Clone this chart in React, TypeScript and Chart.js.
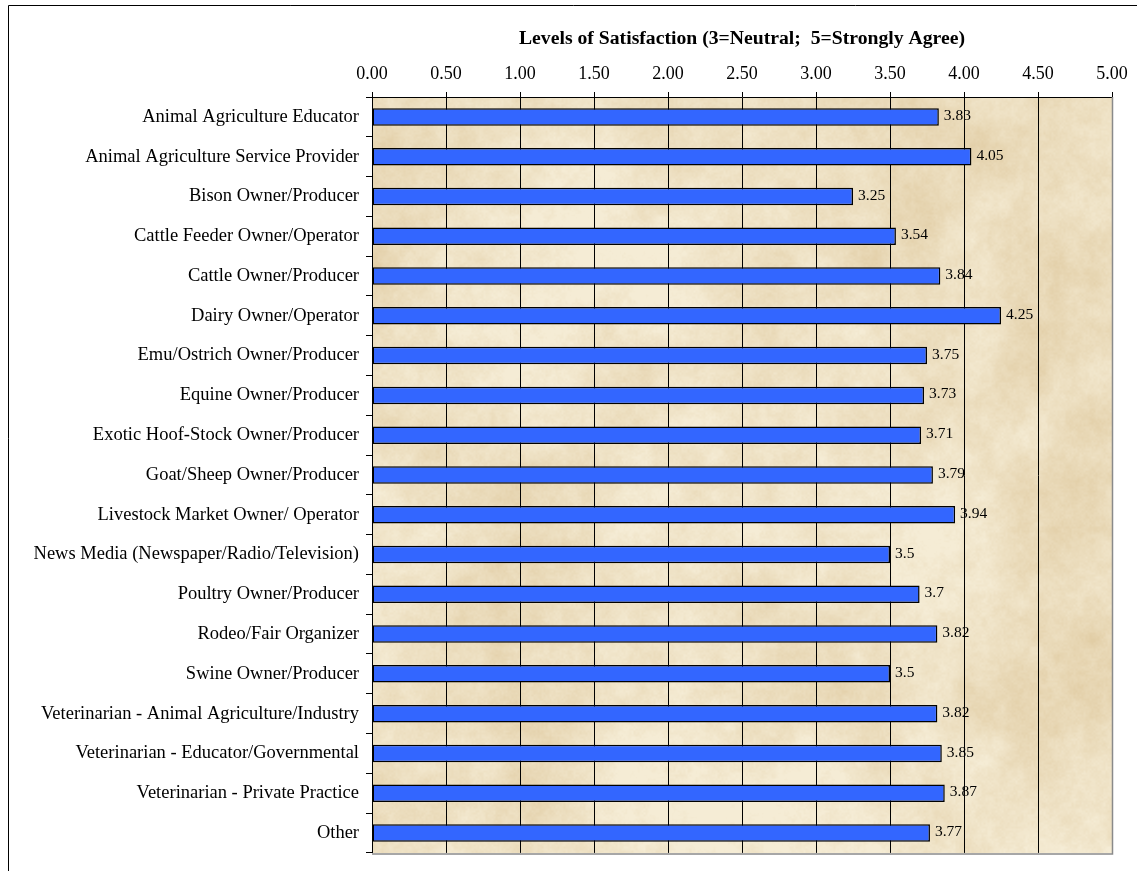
import React, { useEffect, useRef } from "react";
import { Chart, registerables } from "chart.js";

Chart.register(...registerables);

// Respondent groups, listed top to bottom
const categories: string[] = [
  "Animal Agriculture Educator",
  "Animal Agriculture Service Provider",
  "Bison Owner/Producer",
  "Cattle Feeder Owner/Operator",
  "Cattle Owner/Producer",
  "Dairy Owner/Operator",
  "Emu/Ostrich Owner/Producer",
  "Equine Owner/Producer",
  "Exotic Hoof-Stock Owner/Producer",
  "Goat/Sheep Owner/Producer",
  "Livestock Market Owner/ Operator",
  "News Media (Newspaper/Radio/Television)",
  "Poultry Owner/Producer",
  "Rodeo/Fair Organizer",
  "Swine Owner/Producer",
  "Veterinarian - Animal Agriculture/Industry",
  "Veterinarian - Educator/Governmental",
  "Veterinarian - Private Practice",
  "Other",
];

// Mean satisfaction score per group
const satisfaction: number[] = [
  3.83, 4.05, 3.25, 3.54, 3.84, 4.25, 3.75, 3.73, 3.71, 3.79, 3.94, 3.5, 3.7,
  3.82, 3.5, 3.82, 3.85, 3.87, 3.77,
];

const axisTitle = "Levels of Satisfaction (3=Neutral;  5=Strongly Agree)";
const scaleMin = 0;
const scaleMax = 5;
const scaleStep = 0.5;

const SERIF = "'Liberation Serif', 'Times New Roman', serif";

// ---- parchment fill for the plot area (deterministic value noise) ----
function hash(x: number, y: number, seed: number): number {
  let h = (Math.imul(x, 374761393) + Math.imul(y, 668265263) + Math.imul(seed, 982451653)) | 0;
  h = Math.imul(h ^ (h >>> 13), 1274126177);
  h ^= h >>> 16;
  return (h >>> 0) / 4294967295;
}

function smooth(t: number) {
  return t * t * (3 - 2 * t);
}

function valueNoise(x: number, y: number, cell: number, seed: number): number {
  const gx = x / cell;
  const gy = y / cell;
  const x0 = Math.floor(gx);
  const y0 = Math.floor(gy);
  const fx = smooth(gx - x0);
  const fy = smooth(gy - y0);
  const a = hash(x0, y0, seed);
  const b = hash(x0 + 1, y0, seed);
  const c = hash(x0, y0 + 1, seed);
  const d = hash(x0 + 1, y0 + 1, seed);
  return (a + (b - a) * fx) * (1 - fy) + (c + (d - c) * fx) * fy;
}

function makeParchment(w: number, h: number): HTMLCanvasElement {
  const cv = document.createElement("canvas");
  cv.width = w;
  cv.height = h;
  const ctx = cv.getContext("2d")!;
  const img = ctx.createImageData(w, h);
  const light = [245, 236, 213];
  const dark = [224, 203, 162];
  for (let y = 0; y < h; y++) {
    for (let x = 0; x < w; x++) {
      // slightly warmer toward the upper left
      const tint = 0.12 * (1 - x / w) * (1 - y / h);
      let n =
        0.36 * valueNoise(x, y, 140, 1) +
        0.26 * valueNoise(x, y, 55, 2) +
        0.18 * valueNoise(x, y, 18, 3) +
        0.11 * valueNoise(x, y, 6, 4) +
        0.09 * valueNoise(x, y, 2, 5);
      n = Math.min(1, Math.max(0, (n - 0.32) * 1.6 + tint));
      const i = (y * w + x) * 4;
      img.data[i] = light[0] + (dark[0] - light[0]) * n;
      img.data[i + 1] = light[1] + (dark[1] - light[1]) * n;
      img.data[i + 2] = light[2] + (dark[2] - light[2]) * n;
      img.data[i + 3] = 255;
    }
  }
  ctx.putImageData(img, 0, 0);
  return cv;
}

let parchmentCache: HTMLCanvasElement | null = null;

const parchmentPlugin = {
  id: "parchment",
  beforeDraw(chart: any) {
    const { left, top, right, bottom } = chart.chartArea;
    const w = Math.round(right - left);
    const h = Math.round(bottom - top);
    if (!parchmentCache || parchmentCache.width !== w || parchmentCache.height !== h) {
      parchmentCache = makeParchment(w, h);
    }
    chart.ctx.drawImage(parchmentCache, Math.round(left), Math.round(top));
  },
};

const framePlugin = {
  id: "frame",
  afterDraw(chart: any) {
    const ctx = chart.ctx;
    const { right, bottom, top } = chart.chartArea;
    ctx.save();
    // plot area shadow edges
    ctx.strokeStyle = "#8a8a8a";
    ctx.lineWidth = 1.5;
    ctx.beginPath();
    ctx.moveTo(Math.round(right) + 0.5, top);
    ctx.lineTo(Math.round(right) + 0.5, Math.round(bottom) + 1);
    ctx.lineTo(chart.chartArea.left, Math.round(bottom) + 1);
    ctx.stroke();
    // outer chart border
    ctx.strokeStyle = "#000";
    ctx.lineWidth = 1;
    ctx.beginPath();
    ctx.moveTo(8.5, chart.height + 2);
    ctx.lineTo(8.5, 5.5);
    ctx.lineTo(chart.width + 2, 5.5);
    ctx.stroke();
    ctx.restore();
  },
};

const valueLabelPlugin = {
  id: "valueLabels",
  afterDatasetsDraw(chart: any) {
    const ctx = chart.ctx;
    const meta = chart.getDatasetMeta(0);
    ctx.save();
    ctx.font = `15.5px ${SERIF}`;
    ctx.fillStyle = "#000";
    ctx.textAlign = "left";
    ctx.textBaseline = "middle";
    meta.data.forEach((bar: any, i: number) => {
      ctx.fillText(String(satisfaction[i]), bar.x + 5, bar.y - 1);
    });
    ctx.restore();
  },
};

export default function App() {
  const canvasRef = useRef<HTMLCanvasElement | null>(null);

  useEffect(() => {
    const canvas = canvasRef.current;
    if (!canvas) return;
    const chart = new Chart(canvas, {
      type: "bar",
      data: {
        labels: categories,
        datasets: [
          {
            data: satisfaction,
            backgroundColor: "#3366FF",
            borderColor: "#000000",
            borderWidth: 1.5,
            borderSkipped: false,
            barPercentage: 0.44,
            categoryPercentage: 1,
          },
        ],
      },
      options: {
        indexAxis: "y",
        responsive: false,
        animation: false,
        events: [],
        layout: { padding: { left: 0, right: 25, top: 0, bottom: 9 } },
        plugins: {
          legend: { display: false },
          tooltip: { enabled: false },
        },
        scales: {
          x: {
            position: "top",
            min: scaleMin,
            max: scaleMax,
            afterFit: (s: any) => {
              s.height = 97;
            },
            ticks: {
              stepSize: scaleStep,
              callback: (v: any) => Number(v).toFixed(2),
              font: { family: SERIF, size: 18 },
              color: "#000",
              padding: 7,
              maxRotation: 0,
            },
            grid: {
              color: "#000",
              lineWidth: 1,
              tickLength: 5,
              drawOnChartArea: true,
            },
            border: { display: true, color: "#000", width: 1 },
            title: {
              display: true,
              text: axisTitle,
              font: { family: SERIF, size: 19.7, weight: "bold" },
              color: "#000",
              padding: { top: 27, bottom: 0 },
            },
          },
          y: {
            afterFit: (s: any) => {
              s.width = 372;
            },
            ticks: {
              font: { family: SERIF, size: 18.5 },
              color: "#000",
              padding: 7,
              autoSkip: false,
            },
            grid: {
              offset: true,
              drawOnChartArea: false,
              color: "#000",
              tickLength: 6,
            },
            border: { display: true, color: "#000", width: 1 },
          },
        },
      },
      plugins: [parchmentPlugin, valueLabelPlugin, framePlugin],
    });
    return () => chart.destroy();
  }, []);

  return (
    <canvas
      ref={canvasRef}
      width={1137}
      height={871}
      style={{ position: "absolute", left: 0, top: 0, width: 1137, height: 871 }}
    />
  );
}
